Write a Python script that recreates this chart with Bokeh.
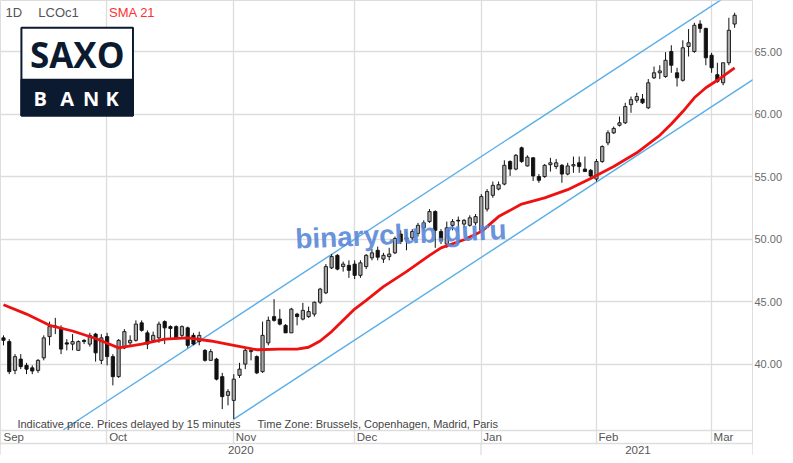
from bokeh.plotting import figure
from bokeh.models import Range1d, FixedTicker, NumeralTickFormatter, ColumnDataSource
from bokeh.core.properties import value
from bokeh.embed import file_html
from bokeh.resources import INLINE

# ---------------- data ----------------
opens = [42.1, 41.8, 39.5, 40.4, 39.9, 39.7, 39.5, 40.5, 42.2, 42.95, 42.9, 41.7, 41.6, 41.1, 41.9, 41.6, 42.4, 40.3,
         42.2, 40.6, 39.0, 41.3, 41.7, 41.9, 43.3, 42.5, 41.9, 42.1, 43.4, 43.0, 43.0, 42.3, 42.9, 42.3, 41.8, 41.1, 40.3, 40.4, 39.0, 37.5,
         37.1, 39.1, 40.0, 41.0, 40.6, 39.4, 41.7, 43.8, 43.6, 43.1, 42.5, 44.0, 43.6, 43.8, 44.0, 44.95, 45.7, 47.7, 48.7, 47.8, 47.9,
         48.0, 47.1, 47.8, 48.5, 49.1, 48.4, 48.6, 48.9, 50.4, 50.0, 50.1, 50.45, 50.9, 51.4, 52.2, 50.6, 49.6, 51.1, 51.5, 51.2, 51.1, 51.3,
         50.7, 52.4, 53.5, 54.0, 54.4, 56.2, 55.6, 57.3, 55.85, 56.5, 55.0, 55.0, 55.95, 55.8, 55.9, 55.2, 55.85, 56.1, 55.6, 55.5,
         54.8, 56.2, 57.7, 58.5, 59.1, 59.3, 60.75, 61.1, 61.2, 60.5, 62.9, 63.3, 63.0, 65.0, 63.3, 62.7, 65.4, 65.0, 67.2, 66.85,
         64.7, 63.15, 62.5, 64.1, 67.2]
highs = [42.3, 42.0, 40.8, 40.8, 40.1, 39.9, 40.4, 42.3, 43.4, 43.7, 43.1, 42.0, 42.4, 41.9, 42.0, 42.5, 42.5, 42.4,
         42.5, 40.8, 42.0, 42.8, 42.3, 43.5, 43.5, 42.7, 42.6, 43.4, 43.5, 43.1, 43.1, 43.1, 43.0, 42.5, 42.6, 41.2, 41.2, 40.5, 39.3, 38.0,
         39.2, 40.1, 41.3, 41.2, 40.7, 43.4, 43.8, 45.2, 44.4, 43.2, 44.5, 44.1, 44.9, 44.6, 45.0, 46.1, 48.0, 48.8, 48.8, 48.2, 48.3,
         48.3, 48.3, 48.8, 49.2, 49.4, 48.9, 49.3, 50.2, 50.7, 50.6, 50.8, 51.3, 51.5, 52.4, 52.3, 50.8, 51.4, 51.6, 51.8, 51.6, 51.9, 52.0,
         53.6, 54.0, 54.6, 54.6, 56.3, 56.3, 56.8, 57.4, 56.7, 56.55, 55.2, 56.0, 56.5, 56.4, 56.0, 56.1, 56.6, 56.6, 56.6, 55.6,
         56.4, 57.5, 58.7, 59.0, 59.8, 60.9, 61.4, 61.7, 61.6, 62.8, 63.8, 63.9, 64.95, 65.5, 63.7, 65.9, 66.8, 67.3, 67.5, 66.9,
         64.9, 64.1, 64.1, 67.7, 68.1]
lows = [41.5, 39.2, 39.2, 39.6, 39.2, 39.2, 39.3, 40.3, 41.5, 42.4, 40.8, 41.1, 41.1, 41.1, 41.6, 41.4, 40.2, 40.0,
        39.9, 38.3, 38.9, 41.2, 41.4, 41.8, 42.6, 41.2, 41.8, 41.7, 41.6, 42.1, 42.0, 42.1, 41.3, 41.5, 41.5, 40.2, 40.3, 38.7, 36.4, 36.7,
        35.6, 38.9, 39.6, 40.3, 39.2, 39.3, 41.5, 43.4, 43.1, 42.5, 42.5, 43.1, 43.5, 43.7, 43.8, 44.8, 45.6, 47.6, 47.5, 47.4, 46.9,
        46.8, 46.9, 47.6, 48.3, 48.3, 48.1, 48.3, 48.8, 49.6, 49.1, 49.9, 50.2, 50.7, 51.3, 49.3, 49.6, 49.3, 50.7, 50.6, 50.9, 51.0, 51.1,
        50.5, 52.2, 53.3, 53.9, 54.3, 55.05, 55.5, 56.1, 55.8, 54.65, 54.5, 54.9, 55.4, 55.6, 54.5, 55.1, 55.3, 55.3, 55.4, 54.9,
        54.6, 56.1, 57.5, 58.4, 59.0, 59.2, 60.1, 60.9, 60.8, 60.4, 62.8, 62.8, 62.9, 63.3, 62.2, 62.6, 64.6, 64.9, 66.5, 63.9,
        63.3, 62.5, 62.3, 63.9, 66.9]
closes = [41.9, 39.4, 40.6, 39.8, 39.6, 39.45, 40.3, 42.1, 43.0, 43.05, 41.2, 41.6, 41.8, 41.8, 41.8, 42.3, 40.9, 42.1,
          40.6, 39.0, 41.9, 42.6, 41.9, 43.2, 42.7, 41.6, 42.3, 43.2, 42.9, 42.85, 42.1, 43.0, 41.5, 41.6, 42.3, 40.3, 41.0, 38.8, 37.4, 37.8,
          38.8, 39.6, 41.1, 41.1, 39.3, 42.3, 43.5, 43.5, 43.2, 42.5, 44.4, 43.8, 44.3, 44.2, 44.95, 46.0, 47.8, 48.6, 47.6, 48.0, 47.5,
          47.1, 48.1, 48.7, 48.9, 48.55, 48.7, 48.8, 50.05, 49.8, 50.1, 50.6, 51.1, 51.3, 52.2, 50.7, 49.9, 50.9, 51.4, 51.45, 51.5, 51.7, 51.8,
          53.4, 53.8, 54.3, 54.35, 55.9, 55.6, 56.7, 56.2, 56.55, 55.05, 54.7, 55.9, 56.1, 56.1, 55.2, 55.85, 55.95, 55.8, 55.4, 55.05,
          56.2, 57.4, 58.5, 58.85, 59.3, 60.6, 61.15, 61.4, 60.9, 62.5, 63.3, 63.45, 64.3, 63.9, 62.9, 65.3, 65.7, 67.1, 66.85, 64.5,
          63.7, 62.6, 64.1, 66.7, 67.9]

sma_idx = [0, 4, 8, 12, 16, 20, 24, 28, 32, 36, 40, 44, 48, 51, 53, 55, 57, 59, 61, 63, 66, 70, 74, 76, 80, 83, 86, 90, 94,
           98, 102, 106, 110, 114, 116, 118, 120, 122, 124, 127]
sma_val = [44.75, 44.0, 43.1, 42.65, 42.05, 41.3, 41.6, 42.0, 42.1, 41.85, 41.5, 41.15, 41.2, 41.2, 41.35, 41.85, 42.6,
           43.5, 44.4, 45.1, 46.2, 47.4, 48.7, 49.3, 49.95, 50.6, 51.8, 52.8, 53.3, 53.95, 54.85, 55.8, 56.9, 58.3, 59.2,
           60.2, 61.3, 62.1, 62.7, 63.7]

upper_channel_x = [10.4, 131.0]
upper_channel_y = [34.75, 71.05]
lower_channel_x = [40.0, 131.0]
lower_channel_y = [35.6, 62.99]

month_labels = ["Sep", "Oct", "Nov", "Dec", "Jan", "Feb", "Mar"]
month_first_idx = [18, 40, 61, 83, 103, 123]          # Oct 1 ... Mar 1
year_labels = ["2020", "2021"]
price_ticks = [40, 45, 50, 55, 60, 65]

# ---------------- layout ----------------
W, H = 785, 455
FRAME_W = 755
PPX = 5.78
X0 = -3 / PPX
X1 = X0 + FRAME_W / PPX
PPY = 12.62 * 0.9908


def fy(ry):
    # reference pixel row -> figure pixel row (bottom rows squeezed a little)
    return ry * 0.9908 if ry <= 434 else 430 + (ry - 434) * 25 / 28


Y_TOP = 65 + fy(51.5) / PPY
Y_BOT = Y_TOP - H / PPY


def dx(rx):
    return X0 + rx / PPX


def dy(ry):
    return Y_TOP - fy(ry) / PPY


FONT = value("Liberation Sans")
GRID = "#dddddd"

p = figure(width=W, height=H, output_backend="svg", toolbar_location=None,
           x_range=Range1d(X0, X1), y_range=Range1d(Y_BOT, Y_TOP),
           x_axis_location=None, y_axis_location="right",
           min_border_left=0, min_border_top=0, min_border_bottom=0, min_border_right=W - FRAME_W)
p.background_fill_color = "white"
p.border_fill_color = "white"
p.outline_line_color = GRID
p.outline_line_width = 1

ax = p.yaxis[0]
ax.ticker = FixedTicker(ticks=price_ticks)
ax.formatter = NumeralTickFormatter(format="0.00")
ax.axis_line_color = None
ax.major_tick_line_color = None
ax.major_tick_out = 0
ax.major_tick_in = 0
ax.minor_tick_line_color = None
ax.major_label_standoff = 2
ax.major_label_text_font = "Liberation Sans"
ax.major_label_text_font_size = "11px"
ax.major_label_text_color = "#6a6a6a"

p.ygrid.ticker = FixedTicker(ticks=price_ticks)
p.ygrid.grid_line_color = GRID
p.ygrid.grid_line_width = 1.3
grid_x = [i - 0.05 for i in month_first_idx]
p.xgrid.ticker = FixedTicker(ticks=grid_x)
p.xgrid.grid_line_color = GRID
p.xgrid.grid_line_width = 1.3

# bottom rows (month row, year row)
p.quad(left=[X0], right=[X1], bottom=[Y_BOT], top=[dy(449.5)], fill_color="white", line_color=None)
p.hspan(y=[dy(434), dy(449)], line_color=GRID, line_width=1.3)
jan = grid_x[month_labels.index("Jan") - 1]
p.segment(x0=[jan], y0=[Y_BOT], x1=[jan], y1=[dy(449)], line_color=GRID, line_width=1.3)

lab_x = [dx(3)] + [g + 0.4 for g in grid_x]
p.text(x=lab_x, y=[dy(441.5)] * len(lab_x), text=month_labels, text_font=FONT, text_font_size="11.5px",
       text_color="#555555", text_align="left", text_baseline="middle")
year_x = [(X0 + jan) / 2, dx(640)]
p.text(x=year_x, y=[dy(456)] * 2, text=year_labels, text_font=FONT, text_font_size="11.5px",
       text_color="#555555", text_align="center", text_baseline="middle")

# channel lines
p.line(upper_channel_x, upper_channel_y, line_color="#5aaee8", line_width=1.4)
p.line(lower_channel_x, lower_channel_y, line_color="#5aaee8", line_width=1.4)

# candles
idx = list(range(len(opens)))
src = ColumnDataSource(dict(
    x=idx, o=opens, h=highs, l=lows, c=closes,
    top=[max(a, b) for a, b in zip(opens, closes)],
    bot=[min(a, b) for a, b in zip(opens, closes)],
    fill=["#a8a8a8" if c >= o else "#111111" for o, c in zip(opens, closes)],
))
p.segment(x0="x", y0="l", x1="x", y1="h", source=src, line_color="#111111", line_width=1)
p.vbar(x="x", width=0.56, top="top", bottom="bot", source=src, fill_color="fill", line_color="#111111",
       line_width=0.9)

# SMA 21
p.line(sma_idx, sma_val, line_color="#ee1111", line_width=2.8, line_join="round")

# watermark
p.text(x=[dx(402)], y=[dy(236)], text=["binaryclub.guru"], text_font=FONT, text_font_style="bold",
       text_font_size="28px", text_color="#5a88d8", text_alpha=0.92, angle=0.045,
       text_align="center", text_baseline="middle")

# footer note
p.text(x=[dx(17), dx(258)], y=[dy(427)] * 2,
       text=["Indicative price. Prices delayed by 15 minutes", "Time Zone: Brussels, Copenhagen, Madrid, Paris"],
       text_font=FONT, text_font_size="11px", text_color="#444444", text_align="left", text_baseline="middle")

# header
p.text(x=[dx(5), dx(38)], y=[dy(12)] * 2, text=["1D", "LCOc1"], text_font=FONT, text_font_size="13px",
       text_color="#555555", text_align="left", text_baseline="middle")
p.text(x=[dx(109)], y=[dy(12)], text=["SMA 21"], text_font=FONT, text_font_size="13px",
       text_color="#ff3030", text_align="left", text_baseline="middle")

# logo
NAVY = "#0c1a30"
p.quad(left=[dx(21)], right=[dx(133)], top=[dy(27.5)], bottom=[dy(116)], fill_color="white",
       line_color=NAVY, line_width=2)
p.quad(left=[dx(21)], right=[dx(133)], top=[dy(80)], bottom=[dy(116)], fill_color=NAVY, line_color=NAVY,
       line_width=2)
p.text(x=[dx(77)], y=[dy(55)], text=["SAXO"], text_font=value("Open Sans"), text_font_style="bold",
       text_font_size="35px", text_color=NAVY, text_align="center", text_baseline="middle")
p.text(x=[dx(40), dx(67), dx(91), dx(112)], y=[dy(98.5)] * 4, text=["B", "A", "N", "K"],
       text_font=value("Open Sans"), text_font_style="bold", text_font_size="20px", text_color="white",
       text_align="center", text_baseline="middle")

open("out.html", "w").write(file_html(p, INLINE))
